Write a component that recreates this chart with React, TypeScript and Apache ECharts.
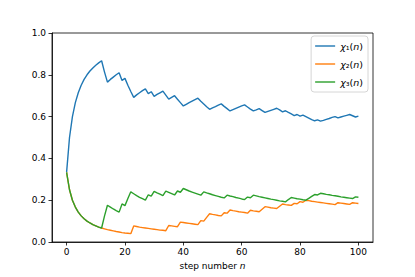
import { useEffect, useRef } from 'react';
import * as echarts from 'echarts';

const chi1 = [
  0.333, 0.5, 0.6, 0.667, 0.714, 0.75, 0.778, 0.8, 0.818, 0.833,
  0.846, 0.857, 0.867, 0.813, 0.765, 0.778, 0.789, 0.8, 0.81, 0.773,
  0.783, 0.75, 0.72, 0.692, 0.704, 0.714, 0.724, 0.733, 0.71, 0.719,
  0.697, 0.706, 0.714, 0.722, 0.703, 0.684, 0.692, 0.7, 0.683, 0.667,
  0.651, 0.659, 0.667, 0.674, 0.681, 0.688, 0.673, 0.66, 0.647, 0.635,
  0.642, 0.648, 0.655, 0.661, 0.649, 0.638, 0.627, 0.633, 0.639, 0.645,
  0.651, 0.656, 0.646, 0.636, 0.627, 0.632, 0.638, 0.629, 0.62, 0.625,
  0.63, 0.635, 0.64, 0.632, 0.623, 0.628, 0.62, 0.613, 0.605, 0.61,
  0.602, 0.607, 0.6, 0.593, 0.586, 0.58, 0.584, 0.578, 0.582, 0.587,
  0.591, 0.596, 0.6, 0.594, 0.598, 0.602, 0.606, 0.61, 0.604, 0.598,
  0.602,
];

const chi2 = [
  0.333, 0.25, 0.2, 0.167, 0.143, 0.125, 0.111, 0.1, 0.091, 0.083,
  0.077, 0.071, 0.067, 0.063, 0.059, 0.056, 0.053, 0.05, 0.048, 0.045,
  0.043, 0.042, 0.04, 0.077, 0.074, 0.071, 0.069, 0.067, 0.065, 0.063,
  0.061, 0.059, 0.057, 0.056, 0.054, 0.079, 0.077, 0.075, 0.073, 0.095,
  0.093, 0.091, 0.089, 0.087, 0.085, 0.083, 0.102, 0.1, 0.118, 0.135,
  0.132, 0.13, 0.127, 0.125, 0.14, 0.138, 0.153, 0.15, 0.148, 0.145,
  0.143, 0.141, 0.138, 0.152, 0.149, 0.147, 0.145, 0.157, 0.169, 0.167,
  0.164, 0.162, 0.16, 0.171, 0.182, 0.179, 0.177, 0.175, 0.185, 0.183,
  0.193, 0.19, 0.2, 0.198, 0.195, 0.193, 0.191, 0.189, 0.187, 0.185,
  0.183, 0.181, 0.179, 0.188, 0.186, 0.184, 0.182, 0.18, 0.188, 0.186,
  0.184,
];

const chi3 = [
  0.333, 0.25, 0.2, 0.167, 0.143, 0.125, 0.111, 0.1, 0.091, 0.083,
  0.077, 0.071, 0.067, 0.125, 0.176, 0.167, 0.158, 0.15, 0.143, 0.182,
  0.174, 0.208, 0.24, 0.231, 0.222, 0.214, 0.207, 0.2, 0.226, 0.219,
  0.242, 0.235, 0.229, 0.222, 0.243, 0.237, 0.231, 0.225, 0.244, 0.238,
  0.256, 0.25, 0.244, 0.239, 0.234, 0.229, 0.224, 0.24, 0.235, 0.231,
  0.226, 0.222, 0.218, 0.214, 0.211, 0.224, 0.22, 0.217, 0.213, 0.21,
  0.206, 0.203, 0.215, 0.212, 0.224, 0.221, 0.217, 0.214, 0.211, 0.208,
  0.205, 0.203, 0.2, 0.197, 0.195, 0.192, 0.203, 0.213, 0.21, 0.207,
  0.205, 0.202, 0.2, 0.209, 0.218, 0.227, 0.225, 0.233, 0.231, 0.228,
  0.226, 0.223, 0.221, 0.219, 0.216, 0.214, 0.212, 0.21, 0.208, 0.216,
  0.214,
];

const xTicks = [0, 20, 40, 60, 80, 100];
const seriesNames = ['chi1', 'chi2', 'chi3'];
const legendLabels: Record<string, string> = {
  chi1: '{i|χ}₁({i|n})',
  chi2: '{i|χ}₂({i|n})',
  chi3: '{i|χ}₃({i|n})',
};
const colors = ['#1f77b4', '#ff7f0e', '#2ca02c'];

export default function App() {
  const ref = useRef<HTMLDivElement>(null);
  useEffect(() => {
    const chart = echarts.init(ref.current!, null, { renderer: 'svg' });
    const font = 'DejaVu Sans';
    const all = [chi1, chi2, chi3];
    const italic = { fontStyle: 'italic', fontFamily: font, fontSize: 9.5, color: '#000' };
    chart.setOption({
      animation: false,
      backgroundColor: '#ffffff',
      textStyle: { fontFamily: font },
      grid: {
        left: 52,
        top: 33,
        width: 321,
        height: 209,
        show: true,
        borderColor: '#000',
        borderWidth: 0.8,
        backgroundColor: 'transparent',
      },
      legend: {
        orient: 'vertical',
        right: 47,
        top: 36,
        itemWidth: 20,
        itemHeight: 12,
        itemGap: 8,
        padding: [5, 5, 5, 4],
        icon: 'path://M0,0 H20 V1.4 H0 Z',
        backgroundColor: 'rgba(255,255,255,0.8)',
        borderColor: '#cccccc',
        borderWidth: 0.8,
        borderRadius: 3,
        data: seriesNames,
        formatter: (name: string) => legendLabels[name],
        textStyle: {
          fontFamily: font,
          fontSize: 9.5,
          color: '#000',
          rich: { i: italic },
        },
      },
      xAxis: {
        type: 'value',
        min: -5,
        max: 105,
        name: 'step number {i|n}',
        nameLocation: 'middle',
        nameGap: 19,
        nameTextStyle: {
          fontFamily: font,
          fontSize: 9,
          color: '#000',
          rich: { i: { ...italic, fontSize: 9 } },
        },
        axisLine: { show: true, onZero: false, lineStyle: { color: '#000', width: 0.8 } },
        axisTick: { show: true, customValues: xTicks, length: 3.5, lineStyle: { color: '#000', width: 0.8 } },
        axisLabel: { customValues: xTicks, fontFamily: font, fontSize: 9, color: '#000', margin: 5 },
        splitLine: { show: false },
      },
      yAxis: {
        type: 'value',
        min: 0,
        max: 1,
        interval: 0.2,
        axisLine: { show: true, onZero: false, lineStyle: { color: '#000', width: 0.8 } },
        axisTick: { show: true, length: 3.5, lineStyle: { color: '#000', width: 0.8 } },
        axisLabel: {
          fontFamily: font,
          fontSize: 9,
          color: '#000',
          margin: 6,
          formatter: (v: number) => v.toFixed(1),
        },
        splitLine: { show: false },
      },
      series: all.map((vals, k) => ({
        type: 'line',
        name: seriesNames[k],
        data: vals.map((v, i) => [i, v]),
        symbol: 'none',
        lineStyle: { width: 1.4, color: colors[k] },
        itemStyle: { color: colors[k] },
      })),
    });
    return () => chart.dispose();
  }, []);
  return (
    <div
      ref={ref}
      style={{ position: 'fixed', left: 0, top: 0, width: 415, height: 277, background: '#fff' }}
    />
  );
}
